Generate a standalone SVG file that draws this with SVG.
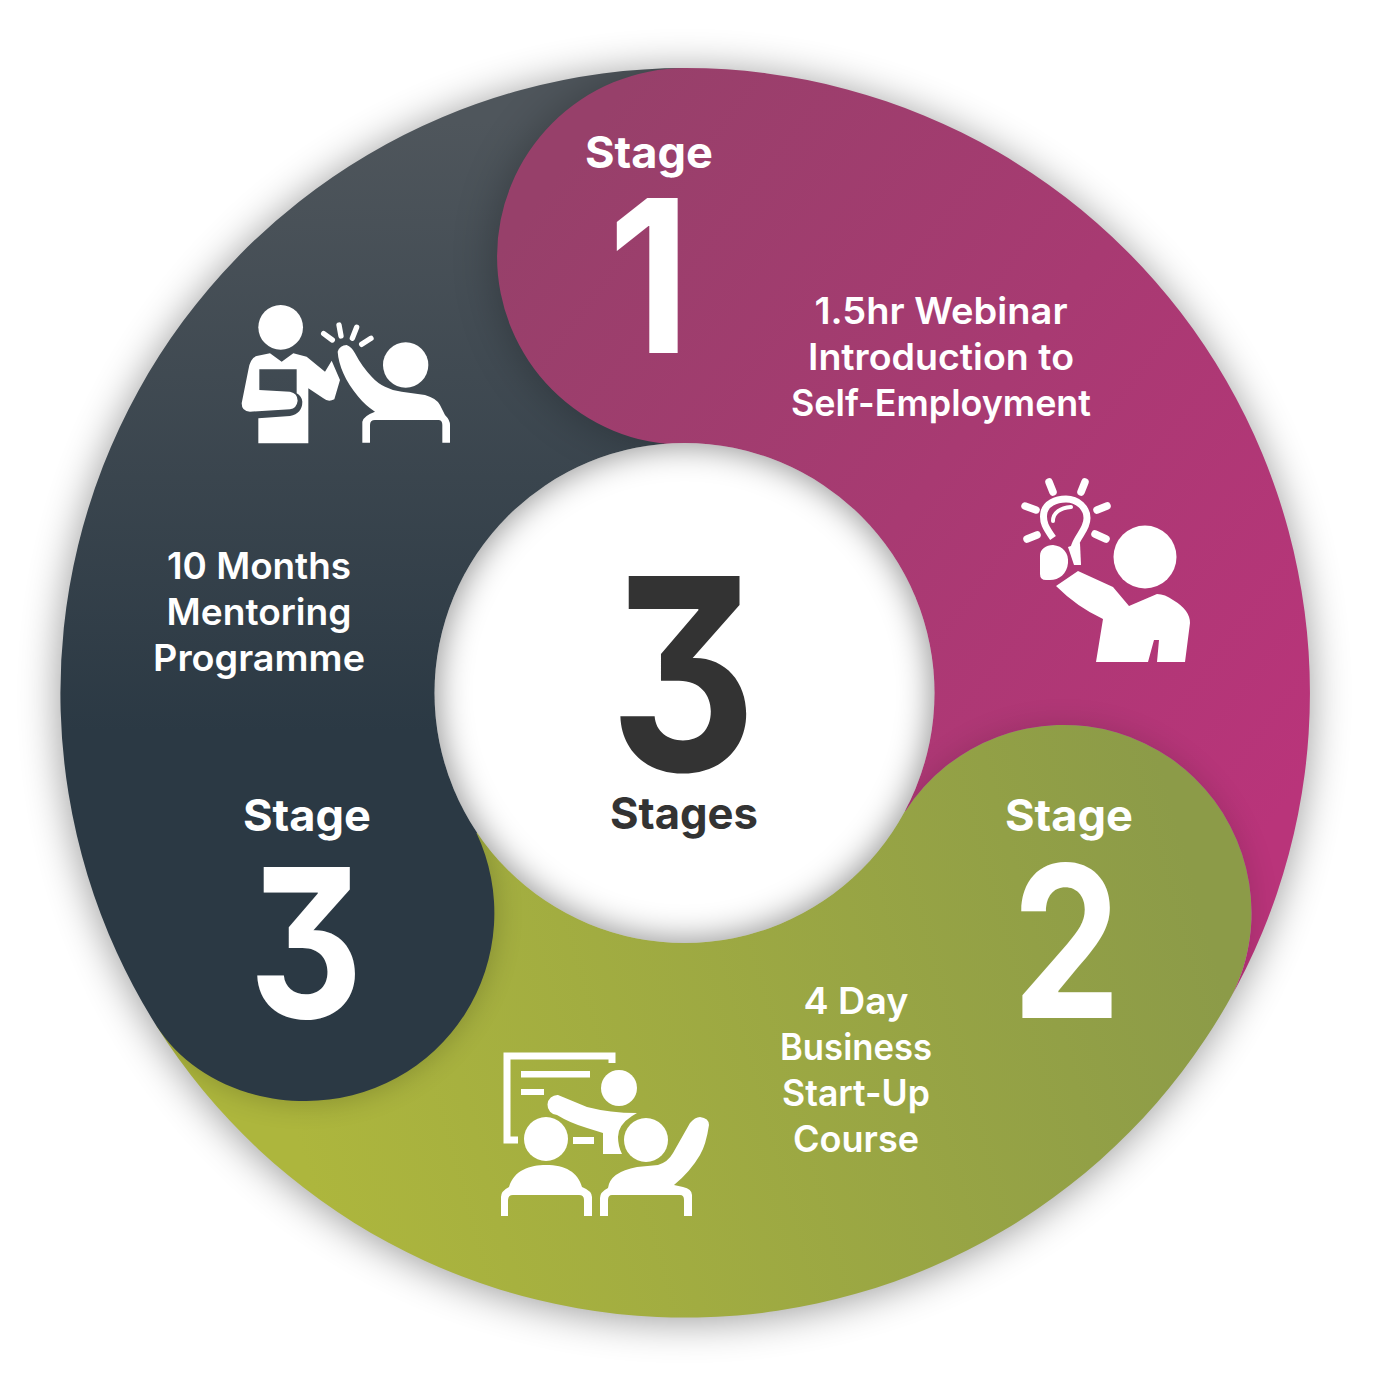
<svg xmlns="http://www.w3.org/2000/svg" width="1377" height="1378" viewBox="0 0 1377 1378">
<style>
text{font-family:Inter,"Liberation Sans",sans-serif;fill:#fff;text-anchor:middle;font-weight:600}
.big{font-weight:700;font-feature-settings:"cv09"}
.s{font-size:44px;font-weight:700}
.b{font-size:37px}
.i{fill:#fff}
.r{fill:none;stroke:#fff;stroke-linecap:round}
</style>
<defs>
<linearGradient id="gm" gradientUnits="userSpaceOnUse" x1="520" y1="220" x2="1290" y2="800"><stop offset="0" stop-color="#97406a"/><stop offset="1" stop-color="#b9347a"/></linearGradient>
<linearGradient id="go" gradientUnits="userSpaceOnUse" x1="300" y1="1150" x2="1200" y2="900"><stop offset="0" stop-color="#adb63d"/><stop offset="1" stop-color="#8c9b48"/></linearGradient>
<linearGradient id="gd" gradientUnits="userSpaceOnUse" x1="0" y1="120" x2="0" y2="730"><stop offset="0" stop-color="#4f565c"/><stop offset="1" stop-color="#2b3944"/></linearGradient>
<filter id="b40" x="-30%" y="-30%" width="160%" height="160%"><feGaussianBlur stdDeviation="20"/></filter>
<filter id="b12" x="-30%" y="-30%" width="160%" height="160%"><feGaussianBlur stdDeviation="14"/></filter>
<filter id="b18" x="-30%" y="-30%" width="160%" height="160%"><feGaussianBlur stdDeviation="17"/></filter>
<filter id="b22" x="-30%" y="-30%" width="160%" height="160%"><feGaussianBlur stdDeviation="22"/></filter>
<path id="pm" d="M685,67A625,625 0 0 1 1226,1004C1242,978 1251,945 1251,912A188,188 0 0 0 905,810L684,692L685,444A188,188 0 0 1 685,67Z"/>
<path id="po" d="M905,810A188,188 0 0 1 1251,912C1251,945 1242,978 1226,1004A625,625 0 0 1 156,1025L476,832L684,692Z"/>
<path id="pd" d="M476,832A188,188 0 0 1 305,1100C240,1100 185,1070 156,1025A625,625 0 0 1 685,67L684,692Z"/>
<clipPath id="cm"><use href="#pm"/></clipPath>
<clipPath id="co"><use href="#po"/></clipPath>
<clipPath id="cd"><use href="#pd"/></clipPath>
<clipPath id="ch"><circle cx="684.500" cy="693" r="250"/></clipPath>
</defs>
<circle cx="684.500" cy="696" r="625" fill="#000" opacity=".4" filter="url(#b40)"/>
<g id="segments" transform="translate(.5,1)">
<use href="#po" fill="url(#go)"/>
<g clip-path="url(#co)"><circle cx="305" cy="912" r="190" fill="#000" opacity=".2" filter="url(#b12)"/></g>
<use href="#pd" fill="url(#gd)"/>
<g clip-path="url(#cd)"><circle cx="685" cy="256" r="190" fill="#000" opacity=".25" filter="url(#b22)"/></g>
<use href="#pm" fill="url(#gm)"/>
<g clip-path="url(#cm)"><circle cx="1063" cy="912" r="190" fill="#000" opacity=".12" filter="url(#b12)"/></g>
</g>
<g id="hub">
<circle cx="684.500" cy="693" r="250" fill="#fff"/>
<g clip-path="url(#ch)"><circle cx="684.500" cy="693" r="266" fill="none" stroke="#000" stroke-width="32" opacity=".5" filter="url(#b18)"/></g>
<text class="big" transform="translate(683,771) scale(.85,1)" font-size="268" style="fill:#333">3</text>
<text x="684" y="829" font-size="44" style="fill:#333;font-weight:700" textLength="148" lengthAdjust="spacingAndGlyphs">Stages</text>
</g>
<g id="stage1">
<text class="s" x="649" y="168" textLength="128" lengthAdjust="spacingAndGlyphs">Stage</text>
<text class="big" transform="translate(649,353) scale(.89,1)" font-size="213">1</text>
<text class="b" x="941" y="324" textLength="253" lengthAdjust="spacingAndGlyphs">1.5hr Webinar</text>
<text class="b" x="941" y="370" textLength="266" lengthAdjust="spacingAndGlyphs">Introduction to</text>
<text class="b" x="941" y="416" textLength="300" lengthAdjust="spacingAndGlyphs">Self-Employment</text>
<g id="icon-idea">
<g class="r" stroke-width="7.5"><path d="M1049,482L1053,492M1085,482L1081,492M1025,506L1036,510M1107,506L1097,510M1027,539L1037,535M1106,539L1095,534"/></g>
<path class="r" stroke-width="7" style="stroke-linecap:butt" d="M1053,538C1046,528 1042,522 1044,512C1046,504 1055,499 1066,499C1078,499 1087,508 1087,518C1087,530 1077,536 1074,548"/>
<path class="r" stroke-width="4" d="M1053,521C1053,513 1060,508 1071,507"/>
<path class="i" d="M1068,547L1080,543L1081,565L1074,565Z"/>
<path class="i" d="M1040,556C1040,549 1046,545 1053,545C1063,546 1069,553 1068,563C1067,574 1059,580 1050,580L1046,580Q1040,580 1040,574Z"/>
<circle class="i" cx="1145" cy="557" r="31.5"/>
<path class="i" d="M1056,586L1078,571L1113,587L1129,606L1157,594Q1165,594 1173,600Q1190,610 1190,623L1185,662H1157L1159,640H1154L1148,662H1096L1103,619Q1077,607 1056,586Z"/>
</g>
</g>
<g id="stage2">
<text class="s" x="1069" y="831" textLength="128" lengthAdjust="spacingAndGlyphs">Stage</text>
<text class="big" transform="translate(1066.500,1018) scale(.82,1)" font-size="211">2</text>
<text class="b" x="856" y="1014" textLength="105" lengthAdjust="spacingAndGlyphs">4 Day</text>
<text class="b" x="856" y="1060" textLength="152" lengthAdjust="spacingAndGlyphs">Business</text>
<text class="b" x="856" y="1106" textLength="148" lengthAdjust="spacingAndGlyphs">Start-Up</text>
<text class="b" x="856" y="1152" textLength="126" lengthAdjust="spacingAndGlyphs">Course</text>
<g id="icon-class">
<path class="r" stroke-width="7" style="stroke-linecap:butt" d="M612,1063V1056H507V1140H518"/>
<path class="i" d="M521,1071H590V1077.500H521ZM521,1089H544V1095H521ZM573,1137H594V1144H573Z"/>
<circle class="i" cx="619" cy="1088" r="18"/>
<path class="i" d="M558,1095L587,1107Q610,1113 637,1113L632,1116Q618,1125 618,1137Q618,1146 622,1154H603V1133L587,1128Q570,1123 557,1115A10,10 0 0 1 558,1095Z"/>
<circle class="i" cx="546" cy="1139" r="22"/>
<path class="i" d="M501,1216V1197Q501,1191 509,1187C514,1170 530,1165 546,1165C565,1165 578,1172 582,1187Q592,1191 592,1197V1216H584V1200Q584,1195 579,1195H513Q508,1195 508,1200V1216Z"/>
<circle class="i" cx="646" cy="1140" r="22"/>
<path class="i" d="M600,1198Q600,1192 608,1188Q610,1172 637,1167L658,1165Q668,1162 673,1153L690,1123Q695,1117 700,1117Q709,1118 709,1125Q706,1145 700,1155Q690,1172 674,1185L683,1187Q692,1189 692,1195V1216H684V1200Q684,1195 680,1195H612Q608,1195 608,1200V1216H600Z"/>
</g>
</g>
<g id="stage3">
<text class="s" x="307" y="831" textLength="128" lengthAdjust="spacingAndGlyphs">Stage</text>
<text class="big" transform="translate(306,1018) scale(.85,1)" font-size="208">3</text>
<text class="b" x="259" y="579" textLength="184" lengthAdjust="spacingAndGlyphs">10 Months</text>
<text class="b" x="259" y="625" textLength="185" lengthAdjust="spacingAndGlyphs">Mentoring</text>
<text class="b" x="259" y="671" textLength="212" lengthAdjust="spacingAndGlyphs">Programme</text>
<g id="icon-highfive" transform="translate(225,290) scale(.33333)">
<circle class="i" cx="167" cy="112" r="67"/>
<path class="i" d="M135,190L170,215L205,190L245,200L300,245L320,212L345,270L328,328Q310,338 295,325L250,295V460H100V385L195,378Q232,370 232,335Q230,318 215,310V238H103V300L195,305Q218,310 218,332Q215,355 195,358L75,365Q50,365 50,340L70,240Q75,205 95,198Z"/>
<circle class="i" cx="542" cy="225" r="68"/>
<path class="i" d="M338,185Q345,165 365,165Q380,170 390,190Q412,232 440,260Q458,280 480,290Q505,303 530,305L600,315Q635,325 645,345L660,375Q675,390 675,405V458H652V405Q652,390 640,390H450Q435,390 435,405V458H412V395Q415,378 450,365Q420,345 400,320Q370,285 355,250Q340,215 338,185Z"/>
<path class="r" stroke-width="16" d="M296,131L322,150M342,105L348,138M395,112L382,145M438,145L410,163"/>
</g>
</g>
</svg>
